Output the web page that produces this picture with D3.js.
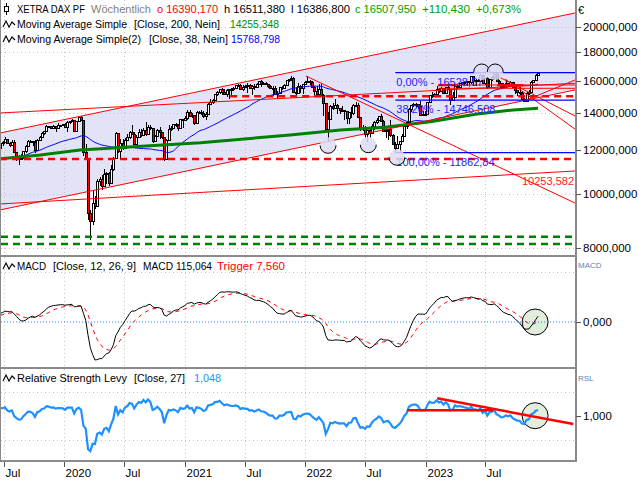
<!DOCTYPE html>
<html><head><meta charset="utf-8">
<script src="https://cdn.jsdelivr.net/npm/d3@7"></script>
<style>
html,body{margin:0;padding:0;background:#fff;}
svg{display:block;font-family:"Liberation Sans",Arial,sans-serif;}
</style></head><body>
<svg id="chart" width="640" height="480"></svg>
<script>
// ---------- DATA ----------
const weekStart = "2018-07-06";
const shownFrom = "2019-06-21";
const closes = [
12496,12541,12561,12860,12616,12425,12211,12394,12364,11960,12124,12431,12247,12112,11524,11554,11201,11519,11529,11341,11193,11257,10788,10866,10634,10559,
10768,10888,11205,11282,11181,10907,11300,11457,11602,11458,11686,11364,11526,12010,11999,12222,12315,12413,12060,12239,12011,11727,12045,12096,
12340,12399,12568,12323,12260,12419,11872,11694,11563,11612,11939,12192,12469,12468,12381,12013,12512,12634,12895,12961,13229,13242,13164,13236,13167,13283,13319,13337,
13219,13483,13526,13577,12982,13514,13744,13579,11890,11541,9232,8929,9633,9525,10564,10626,10336,10861,10904,10465,11074,11587,12848,11949,12331,12089,12528,12633,12920,12838,12313,12674,12901,12765,13033,12842,13202,13116,12469,12689,13051,12909,12646,11556,12480,13077,13137,13335,13298,13114,13631,13587,
13719,14049,13787,13873,13433,14056,14050,13993,13786,13920,14502,14621,14749,15107,15234,15460,15280,15136,15400,15417,15438,15520,15693,15693,15448,15607,15650,15688,15540,15669,15544,15761,15977,15808,15852,15781,15610,15490,15531,15156,15206,15587,15543,15688,16054,16094,16160,15257,15170,15623,15532,15756,15885,
15948,15883,15603,15318,15100,15425,15042,14567,13094,13628,14413,14306,14446,14284,14164,14142,14098,13674,14027,13982,14462,14460,13762,13127,13119,12813,13016,12864,13254,13484,13574,13795,13544,12971,13051,13088,12741,12284,12114,12273,12438,12731,13243,13460,14225,14432,14541,14529,14371,13894,13941,13924,
14610,15087,15033,15150,15476,15308,15482,15210,15578,15428,14768,14957,15629,15598,15808,15882,15922,15961,15914,16275,15984,16051,15950,16358,15830,16148,15603,16106,16204,16469,15952,15832,15575,15632,15840,15740,15894,15557,15387,15230,15187,14798,14687,15189,15234,15919,16029,16397.52,16507.95];
const highs = [
12380,12440,12656,12580,12400,12520,12480,11900,11770,11820,11950,12230,12490,12500,12470,12490,12530,12710,12915,12990,13290,13270,13270,13290,13240,13425,13330,13370,
13425,13500,13550,13640,13600,13540,13770,13795,13580,12290,11600,9350,10150,9900,10650,10730,10800,11100,10960,10950,11250,11640,12910,12860,12550,12560,12620,12810,12960,13315,12920,12750,13070,13080,13120,13460,13290,13300,13140,12780,13080,13170,12940,12650,12530,13300,13250,13380,13420,13340,13640,13640,
13820,14130,14130,14000,13880,14100,14120,14170,14080,14070,14580,14800,14790,15130,15310,15470,15500,15420,15460,15470,15480,15600,15730,15800,15800,15720,15700,15810,15800,15710,15740,15810,15990,16030,15930,15900,15770,15730,15670,15620,15300,15590,15630,15750,16060,16100,16290,16230,15560,15820,15730,15770,15950,
16285,16030,15990,15620,15670,15740,15740,15120,14600,14020,14430,14570,14820,14500,14290,14390,14140,14090,14060,14310,14500,14660,14600,13780,13330,13240,13030,13140,13370,13510,13700,13810,13950,13560,13270,13110,13570,12840,12390,12700,12470,12800,13280,13460,14250,14440,14560,14600,14530,14700,14090,14100,
14620,15090,15270,15180,15660,15500,15590,15500,15600,15710,15460,15250,15660,15700,15820,15900,15930,15990,16000,16330,16330,16080,16080,16430,16370,16180,16210,16130,16300,16480,16529,16060,15860,15820,16040,15850,15990,15900,15620,15400,15580,15350,14880,15250,15360,15950,16060,16430,16511.38];
const lows = [
12060,12210,12390,12290,12150,12210,11840,11480,11266,11550,11580,11860,12170,12350,12190,11830,11960,12480,12600,12790,12960,13150,13080,13150,12900,13100,13200,13260,
13150,12950,13350,13460,12970,12950,13480,13540,11724,11500,8975,8256,8800,9390,9500,10350,10160,10300,10400,10340,10460,11000,11560,11850,11600,11990,12050,12470,12580,12800,12250,12250,12640,12670,12730,12690,12820,13050,12340,12420,12650,12580,12580,11450,11500,12470,12990,13090,13180,13000,13100,13140,
13560,13590,13770,13720,13310,13410,13900,13890,13700,13600,13900,14470,14530,14740,15020,15100,15050,15110,14960,14820,15050,15300,15430,15560,15440,15340,15480,15200,15490,15060,15410,15480,15690,15600,15770,15720,15500,15470,15000,15100,14820,15180,15400,15450,15660,15930,15990,15240,15060,15160,15200,15150,15750,
15850,15700,15570,15000,15090,15070,14980,13810,13050,12440,13600,14160,14270,13950,13920,14020,13560,13380,13380,13720,13860,14350,13740,12960,12990,12620,12390,12620,12890,13030,13340,13500,13500,12950,12630,12480,12650,12280,11860,12100,11870,12410,12700,13070,13280,14060,14320,14300,14240,13800,13790,13790,
13900,14550,14880,14980,15020,15210,15250,15160,15150,15400,14460,14740,14930,15460,15480,15700,15700,15640,15690,15800,15630,15660,15880,15900,15790,15700,15460,15570,15980,16040,15880,15620,15470,15490,15600,15640,15630,15530,15140,15000,15040,14790,14630,14680,15060,15220,15860,15990,16386.8];
const lastOpen = 16390.17;
const ma200Dates = ["2019-06-21","2019-10-20","2020-02-18","2020-07-28","2021-02-17","2021-11-16","2022-04-17","2022-08-31","2023-01-15","2023-06-01","2023-09-24","2023-12-08"];
const ma200Values = [11570,11750,12000,12160,12365,12766,13030,13180,13490,13910,14160,14255];
const priceTicks = [20000,18000,16000,14000,12000,10000,8000];
const xTickDates = ["2019-07-01","2020-01-01","2020-07-01","2021-01-01","2021-07-01","2022-01-01","2022-07-01","2023-01-01","2023-07-01"];
const xTickLabels = ["Jul","2020","Jul","2021","Jul","2022","Jul","2023","Jul"];
const channelTop = [["2019-06-20",12870],["2024-03-29",21170]];
const channelBottom = [["2019-06-20",9355],["2024-03-29",15385]];
const trendLines = [
 [["2019-06-20",13985],["2024-03-29",15820]],
 [["2019-06-20",9590],["2024-03-29",10996]],
 [["2022-01-03",16302],["2024-03-29",9628]],
 [["2023-07-25",16438],["2024-03-29",13812]],
 [["2023-08-30",16100],["2024-03-29",13086]],
 [["2023-10-27",14700],["2024-03-29",16034]],
 [["2023-02-08",15706],["2024-03-29",15706]],
 [["2023-02-08",15492],["2024-03-29",15492]]
];
const thickRedSegments = [[["2023-02-08",15700],["2023-04-08",15700]],[["2023-08-06",15690],["2023-10-23",15690]]];
const redDashLevels = [["2019-06-20",11556],["2021-05-18",14994]];
const greenDashLevels = [8374,8124];
const fibStart = "2022-10-01";
const fibValues = [16528.57,14746.508,11862.84];
const fibLabels = ["0,00% - 16528,57","38,20% - 14746,508","100,00% - 11862,84"];
const lineLabel = {text:"10253,582", value:10253.582};
const lowArcs = [["2022-03-11",12230],["2022-07-11",12260],["2022-10-06",11640]];
const highArcs = [["2023-06-20",16576],["2023-07-31",16576]];
const rslLines = [[["2022-11-06",1.045],["2023-07-25",1.045]],[["2023-02-05",1.146],["2024-03-24",0.93]]];
const markerDate = "2023-11-29";

// ---------- SETUP ----------
const svg = d3.select("#chart");
const parse = d3.utcParse("%Y-%m-%d");
const dates = closes.map((c,i)=>d3.utcDay.offset(parse(weekStart),7*i));
const si = dates.findIndex(d=>d>=parse(shownFrom));
const N = closes.length;
const idx = d3.range(si,N);

const x = d3.scaleUtc().domain([parse("2019-06-20"),parse("2024-03-29")]).range([0,575]);
const yP = d3.scaleLog().domain([7729,22341]).range([256,0]);

function sma(i,n){let s=0;for(let k=i-n+1;k<=i;k++)s+=closes[k];return s/n;}
function ema(arr,n){const a=2/(n+1),o=[];arr.forEach((v,i)=>o.push(i?o[i-1]+a*(v-o[i-1]):v));return o;}
const e12=ema(closes,12), e26=ema(closes,26);
const macd=closes.map((c,i)=>e12[i]-e26[i]);
const trig=ema(macd,9);
const macdMin=d3.min(idx,i=>macd[i]);
const yM=d3.scaleLinear().domain([macdMin,0]).range([360,322]);
const yR=d3.scaleLinear().domain([0.628,1.392]).range([460,369]);

const defs=svg.append("defs");
[["cpMain",0,255],["cpMacd",257,110],["cpRsl",369,91]].forEach(([id,y,h])=>{
  defs.append("clipPath").attr("id",id).append("rect").attr("x",1).attr("y",y).attr("width",574).attr("height",h);
});
const gMain=svg.append("g").attr("clip-path","url(#cpMain)");
const gMacd=svg.append("g").attr("clip-path","url(#cpMacd)");
const gRsl=svg.append("g").attr("clip-path","url(#cpRsl)");

const pt=(p,ys)=>[x(parse(p[0])),ys(p[1])];

// channel fill
const poly=[pt(channelTop[0],yP),pt(channelTop[1],yP),pt(channelBottom[1],yP),pt(channelBottom[0],yP)];
gMain.append("path").attr("d","M"+poly.join("L")+"Z").attr("fill","#e3e3f8");

// grids
const gridStyle=s=>s.attr("stroke","#c4c4c4").attr("stroke-width",1).attr("stroke-dasharray","1,3");
[[gMain,0,256],[gMacd,257,367],[gRsl,369,460]].forEach(([g,a,b])=>{
  xTickDates.forEach(d=>{const xx=Math.round(x(parse(d)))+0.5;
    g.append("line").attr("x1",xx).attr("x2",xx).attr("y1",a).attr("y2",b).call(gridStyle);});
});
priceTicks.forEach(v=>{const yy=Math.round(yP(v))+0.5;
  gMain.append("line").attr("x1",1).attr("x2",575).attr("y1",yy).attr("y2",yy).call(gridStyle);});
[1000,-1000].forEach(v=>{const yy=Math.round(yM(v))+0.5;
  gMacd.append("line").attr("x1",1).attr("x2",575).attr("y1",yy).attr("y2",yy).call(gridStyle);});
[1.2,0.8].forEach(v=>{const yy=Math.round(yR(v))+0.5;
  gRsl.append("line").attr("x1",1).attr("x2",575).attr("y1",yy).attr("y2",yy).call(gridStyle);});

// candles
const gC=gMain.append("g").attr("shape-rendering","crispEdges");
idx.forEach((i,j)=>{
  const o = (i===N-1)?lastOpen:closes[i-1], c=closes[i];
  const h=Math.max(highs[j],o,c), l=Math.min(lows[j],o,c);
  const xx=Math.round(x(dates[i]))+0.5;
  gC.append("line").attr("x1",xx).attr("x2",xx).attr("y1",yP(h)).attr("y2",yP(l)).attr("stroke","#000").attr("stroke-width",1);
});
idx.forEach((i,j)=>{
  const o = (i===N-1)?lastOpen:closes[i-1], c=closes[i];
  const xx=Math.round(x(dates[i]));
  const yt=Math.round(yP(Math.max(o,c))), yb=Math.round(yP(Math.min(o,c)));
  gC.append("rect").attr("x",xx-0.5).attr("width",2).attr("y",yt+0.5).attr("height",Math.max(0.5,yb-yt))
    .attr("fill",c>=o?"#fff":"#f00").attr("stroke","#000").attr("stroke-width",1);
});

// moving averages
const lineP=d3.line().x(d=>d[0]).y(d=>d[1]);
gMain.append("path").attr("d",lineP(idx.map(i=>[x(dates[i]),yP(sma(i,38))])))
  .attr("fill","none").attr("stroke","#0000ff").attr("stroke-width",1);
gMain.append("path").attr("d",lineP(ma200Dates.map((d,k)=>[x(parse(d)),yP(ma200Values[k])])))
  .attr("fill","none").attr("stroke","#008000").attr("stroke-width",3);

// dashed levels
redDashLevels.forEach(([d,v])=>{
  gMain.append("line").attr("x1",x(parse(d))).attr("x2",575).attr("y1",yP(v)).attr("y2",yP(v))
   .attr("stroke","#f00").attr("stroke-width",2.5).attr("stroke-dasharray","7,5");
});
greenDashLevels.forEach(v=>{
  gMain.append("line").attr("x1",1).attr("x2",575).attr("y1",yP(v)).attr("y2",yP(v))
   .attr("stroke","#008000").attr("stroke-width",2.5).attr("stroke-dasharray","7,5");
});

// trend lines
[channelTop,channelBottom].concat(trendLines).forEach(L=>{
  const a=pt(L[0],yP), b=pt(L[1],yP);
  gMain.append("line").attr("x1",a[0]).attr("y1",a[1]).attr("x2",b[0]).attr("y2",b[1]).attr("stroke","#f00").attr("stroke-width",1);
});
thickRedSegments.forEach(L=>{
  const a=pt(L[0],yP), b=pt(L[1],yP);
  gMain.append("line").attr("x1",a[0]).attr("y1",a[1]).attr("x2",b[0]).attr("y2",b[1]).attr("stroke","#f00").attr("stroke-width",2.5);
});

// fib levels
fibValues.forEach((v,k)=>{
  const yy=yP(v);
  gMain.append("line").attr("x1",x(parse(fibStart))).attr("x2",575).attr("y1",yy).attr("y2",yy).attr("stroke","#0000ff").attr("stroke-width",1.2);
  gMain.append("text").attr("x",x(parse(fibStart))+1).attr("y",yy+13).attr("font-size",11).attr("fill","#2424ff").text(fibLabels[k]);
});
gMain.append("text").attr("x",574).attr("y",yP(lineLabel.value)-3).attr("text-anchor","end").attr("font-size",11).attr("fill","#ff2020").text(lineLabel.text);

// arcs
function arc(g,p,up){
  const cx=x(parse(p[0])), cy=yP(p[1]), rx=8, ry=8;
  g.append("ellipse").attr("cx",cx).attr("cy",cy).attr("rx",rx).attr("ry",ry).attr("fill","#dcdcf4").attr("fill-opacity",0.85);
  g.append("path").attr("d",`M${cx-rx},${cy}A${rx},${ry} 0 0 ${up?1:0} ${cx+rx},${cy}`).attr("fill","none").attr("stroke","#000").attr("stroke-width",1);
}
lowArcs.forEach(p=>arc(gMain,p,false));
highArcs.forEach(p=>arc(gMain,p,true));

// MACD panel
const mx=x(parse(markerDate));
gMacd.append("circle").attr("cx",mx).attr("cy",yM(0)).attr("r",13).attr("fill","#e2eedb").attr("stroke","#000");
gMacd.append("line").attr("x1",1).attr("x2",575).attr("y1",yM(0)).attr("y2",yM(0)).attr("stroke","#1e90ff").attr("stroke-width",1).attr("stroke-dasharray","1,2");
gMacd.append("path").attr("d",lineP(idx.map(i=>[x(dates[i]),yM(trig[i])]))).attr("fill","none").attr("stroke","#f00").attr("stroke-width",1).attr("stroke-dasharray","4,4");
gMacd.append("path").attr("d",lineP(idx.map(i=>[x(dates[i]),yM(macd[i])]))).attr("fill","none").attr("stroke","#000").attr("stroke-width",1);

// RSL panel
gRsl.append("circle").attr("cx",mx).attr("cy",yR(1)).attr("r",13).attr("fill","#e2eedb").attr("stroke","#000");
gRsl.append("path").attr("d",lineP(idx.map(i=>[x(dates[i]),yR(closes[i]/sma(i,27))]))).attr("fill","none").attr("stroke","#1e90ff").attr("stroke-width",2.2);
rslLines.forEach(L=>{
  const a=pt(L[0],yR), b=pt(L[1],yR);
  gRsl.append("line").attr("x1",a[0]).attr("y1",a[1]).attr("x2",b[0]).attr("y2",b[1]).attr("stroke","#f00").attr("stroke-width",2.5);
});

// frame
const frame=svg.append("g").attr("stroke","#8a8a8a").attr("shape-rendering","crispEdges");
frame.append("line").attr("x1",0.5).attr("x2",0.5).attr("y1",0).attr("y2",462).attr("stroke-width",1.5);
frame.append("line").attr("x1",575.5).attr("x2",575.5).attr("y1",0).attr("y2",462).attr("stroke-width",2);
[256,368,461].forEach(yy=>frame.append("line").attr("x1",0).attr("x2",577).attr("y1",yy).attr("y2",yy).attr("stroke-width",2.5));

// right axes
const fmt=v=>d3.format(".3f")(v).replace(".",",");
const ax=svg.append("g").attr("font-size",11).attr("fill","#000");
function rtick(yy,label){
  ax.append("line").attr("x1",576).attr("x2",581).attr("y1",Math.round(yy)+0.5).attr("y2",Math.round(yy)+0.5).attr("stroke","#555");
  ax.append("text").attr("x",583).attr("y",yy).attr("dy","0.36em").attr("font-size",11.5).text(label);
}
priceTicks.forEach(v=>rtick(yP(v),fmt(v)));
rtick(yM(0),fmt(0));
rtick(yR(1),fmt(1));
ax.append("text").attr("x",578).attr("y",14).attr("font-size",11).text("€");
ax.append("text").attr("x",578).attr("y",268).attr("font-size",8).attr("fill","#5f82b5").text("MACD");
ax.append("text").attr("x",578).attr("y",381).attr("font-size",8).attr("fill","#5f82b5").text("RSL");

// x axis
xTickDates.forEach((d,k)=>{
  const xx=Math.round(x(parse(d)))+0.5;
  ax.append("line").attr("x1",xx).attr("x2",xx).attr("y1",462).attr("y2",467).attr("stroke","#555");
  ax.append("text").attr("x",xx+1).attr("y",477).attr("font-size",11.5).text(xTickLabels[k]);
});

// legends
const lg=svg.append("g").attr("font-size",11);
function txt(xx,yy,s,col,len){const t=lg.append("text").attr("x",xx).attr("y",yy).attr("fill",col).text(s);
  if(len)t.attr("textLength",len).attr("lengthAdjust","spacingAndGlyphs");}
function wave(yy){lg.append("path").attr("d",`M3,${yy-1}L6,${yy-7}L9,${yy-1}L12,${yy-6}L15,${yy-3}`).attr("fill","none").attr("stroke","#000").attr("stroke-width",1.1);}
// row 1
lg.append("line").attr("x1",6.5).attr("x2",6.5).attr("y1",3).attr("y2",15).attr("stroke","#000");
lg.append("rect").attr("x",4.5).attr("y",6.5).attr("width",4).attr("height",5).attr("fill","#fff").attr("stroke","#000");
txt(17,13,"XETRA DAX PF","#000",68);
txt(91,13,"Wöchentlich","#808080",60);
txt(157,13,"o 16390,170","#ff0000",61);
txt(224,13,"h 16511,380","#000",61);
txt(291,13,"l 16386,800","#000",59);
txt(355,13,"c 16507,950","#00a000",61);
txt(422,13,"+110,430","#00a000",48);
txt(476,13,"+0,673%","#00a000",45);
// row 2
wave(28); txt(17,28,"Moving Average Simple","#000",110); txt(134,28,"[Close, 200, Nein]","#000",86); txt(230,28,"14255,348","#009000",49);
// row 3
wave(43); txt(17,43,"Moving Average Simple(2)","#000",124); txt(149,43,"[Close, 38, Nein]","#000",79); txt(231,43,"15768,798","#0000ff",49);
// MACD
wave(270); txt(17,270,"MACD","#000",29); txt(53,270,"[Close, 12, 26, 9]","#000",83); txt(143,270,"MACD 115,064","#000",69); txt(217,270,"Trigger 7,560","#ff0000",68);
// RSL
wave(382); txt(17,382,"Relative Strength Levy","#000",110); txt(134,382,"[Close, 27]","#000",51); txt(194,382,"1,048","#1e90ff",27);
</script>
</body></html>
